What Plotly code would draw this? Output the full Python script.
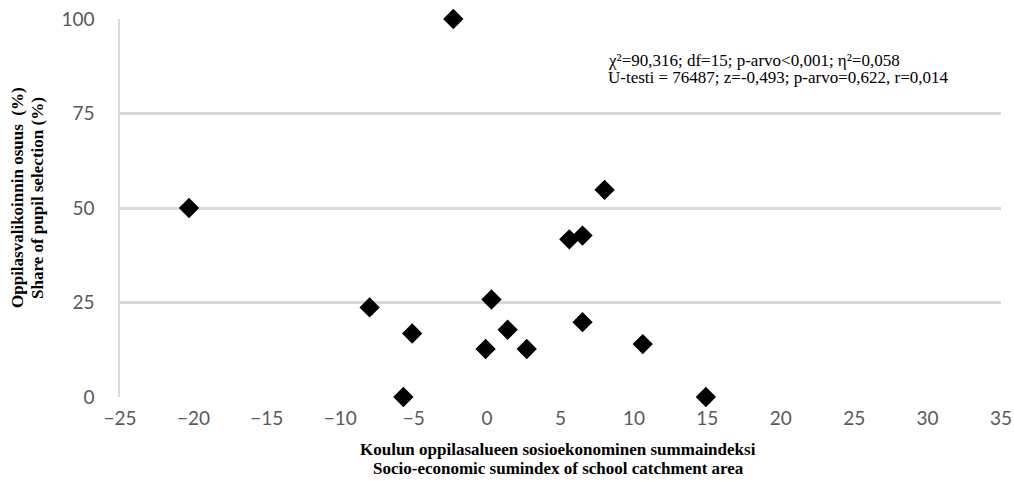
import plotly.graph_objects as go

sumindex = [-20.3, -2.3, -8.0, -5.1, -5.7, -0.1, 0.3, 1.4, 2.7, 5.6, 6.5, 6.5, 8.0, 10.6, 14.9]
share = [50, 100, 23.7, 16.8, 0, 12.7, 25.8, 17.8, 12.7, 41.7, 42.7, 19.8, 54.8, 14, 0]

x_ticks = [-25, -20, -15, -10, -5, 0, 5, 10, 15, 20, 25, 30, 35]
y_ticks = [0, 25, 50, 75, 100]

x_title = ["Koulun oppilasalueen sosioekonominen summaindeksi",
           "Socio-economic sumindex of school catchment area"]
y_title = ["Oppilasvalikoinnin osuus  (%)", "Share of pupil selection (%)"]
stats = ["χ²=90,316; df=15; p-arvo<0,001; η²=0,058",
         "U-testi = 76487; z=-0,493; p-arvo=0,622, r=0,014"]

W, H = 1014, 482
L, R, T, B = 120, 13, 19, 85
PW, PH = W - L - R, H - T - B

fig = go.Figure()
fig.add_trace(go.Scatter(
    x=sumindex, y=share, mode="markers",
    marker=dict(symbol="diamond", size=14, color="black", line=dict(width=1.5, color="black")),
    showlegend=False, cliponaxis=False, hoverinfo="skip",
))

tick_font = dict(family="Lato, Open Sans, sans-serif", size=19, color="#595959")
title_font = dict(family="Liberation Serif, Times New Roman, serif", size=17, color="black")
stats_font = dict(family="Liberation Serif, Times New Roman, serif", size=17, color="black")

fig.update_layout(
    width=W, height=H,
    margin=dict(l=L, r=R, t=T, b=B, autoexpand=False),
    plot_bgcolor="white", paper_bgcolor="white",
    xaxis=dict(range=[-25, 35], tickvals=x_ticks,
               ticktext=[("−" if v < 0 else "") + str(abs(v)) for v in x_ticks],
               showgrid=False, zeroline=False, showline=False, automargin=False,
               ticklabeloverflow="allow",
               ticks="outside", ticklen=4, tickcolor="rgba(0,0,0,0)", tickfont=tick_font),
    yaxis=dict(range=[0, 100], tickvals=y_ticks, showgrid=True, gridcolor="#d9d9d9", gridwidth=2.5,
               zeroline=False, showline=True, linecolor="#d9d9d9", linewidth=1.5, automargin=False,
               ticklabeloverflow="allow",
               ticks="outside", ticklen=20, tickcolor="rgba(0,0,0,0)", tickfont=tick_font),
)

def px_x(px):
    return (px - L) / PW

def px_y(py):
    return (H - B - py) / PH

fig.add_annotation(xref="paper", yref="paper", x=px_x(558), y=px_y(449),
                   text="<b>" + x_title[0] + "</b>", showarrow=False, font=title_font,
                   xanchor="center", yanchor="middle")
fig.add_annotation(xref="paper", yref="paper", x=px_x(558), y=px_y(468),
                   text="<b>" + x_title[1] + "</b>", showarrow=False, font=title_font,
                   xanchor="center", yanchor="middle")
fig.add_annotation(xref="paper", yref="paper", x=px_x(18), y=px_y(198),
                   text="<b>" + y_title[0] + "</b>", showarrow=False, font=title_font, textangle=-90,
                   xanchor="center", yanchor="middle")
fig.add_annotation(xref="paper", yref="paper", x=px_x(38), y=px_y(198),
                   text="<b>" + y_title[1] + "</b>", showarrow=False, font=title_font, textangle=-90,
                   xanchor="center", yanchor="middle")
fig.add_annotation(xref="paper", yref="paper", x=px_x(606), y=px_y(60),
                   text=stats[0], showarrow=False, font=stats_font,
                   xanchor="left", yanchor="middle")
fig.add_annotation(xref="paper", yref="paper", x=px_x(606), y=px_y(78),
                   text=stats[1], showarrow=False, font=stats_font,
                   xanchor="left", yanchor="middle")

fig.write_html("out.html", config={"displayModeBar": False},
               post_script="document.body.style.margin='0';")
